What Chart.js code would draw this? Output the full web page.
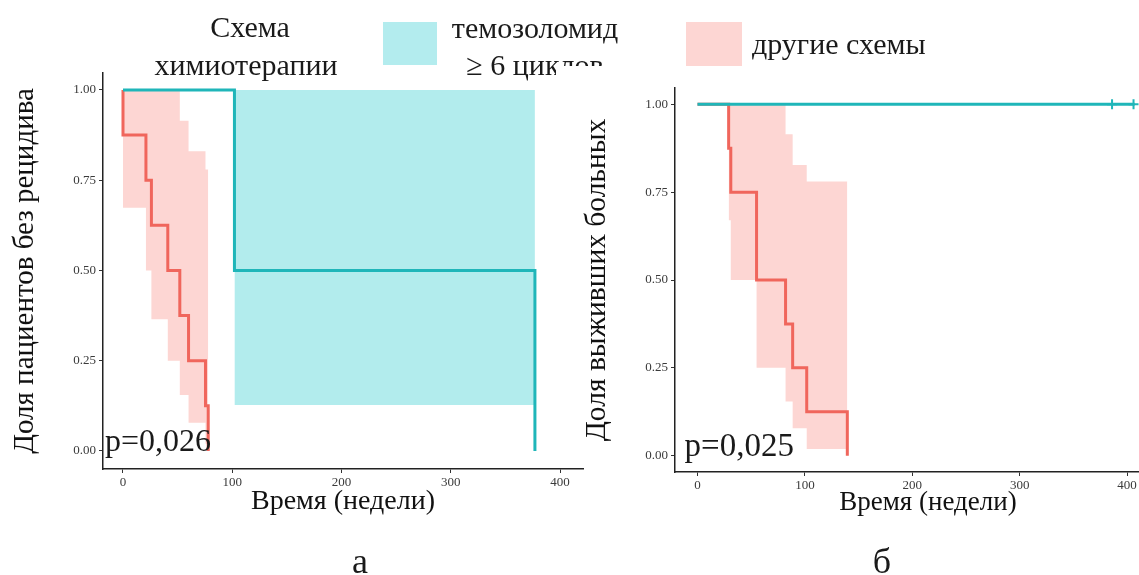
<!DOCTYPE html>
<html>
<head>
<meta charset="utf-8">
<script src="https://cdn.jsdelivr.net/npm/chart.js"></script>
<style>
  body { margin: 0; width: 1139px; height: 575px; overflow: hidden; background: #fff; position: relative; }
  canvas { position: absolute; top: 0; }
  .txt { position: absolute; font-family: "Liberation Serif", "DejaVu Serif", serif; color: #1a1a1a; white-space: nowrap; }
  .key { position: absolute; }
</style>
</head>
<body>
<canvas id="chartA" width="600" height="575" style="left:0"></canvas>
<canvas id="chartB" width="640" height="575" style="left:560px"></canvas>

<!-- легенда -->
<div class="txt" style="left:150px;width:200px;text-align:center;top:12px;font-size:30px;line-height:30px">Схема</div>
<div class="txt" style="left:146px;width:200px;text-align:center;top:50px;font-size:30px;line-height:30px">химиотерапии</div>
<div class="key" style="left:383px;top:22px;width:54px;height:43px;background:#b3ecee"></div>
<div class="txt" style="left:435px;width:200px;text-align:center;top:13px;font-size:30px;line-height:30px">темозоломид</div>
<div class="txt" style="left:435px;width:200px;text-align:center;top:50px;font-size:30px;line-height:30px">≥ 6 циклов</div>
<div style="position:absolute;left:556px;top:66px;width:60px;height:20px;background:#fff"></div>
<div class="key" style="left:686px;top:22px;width:56px;height:44px;background:#fdd6d3"></div>
<div class="txt" style="left:752px;top:29px;font-size:30px;line-height:30px">другие схемы</div>

<div class="txt" style="left:330px;width:60px;text-align:center;top:543px;font-size:36px;line-height:36px">а</div>
<div class="txt" style="left:852px;width:60px;text-align:center;top:543px;font-size:36px;line-height:36px">б</div>

<script>
// а: доля пациентов без рецидива
const aOtherTimes = [0, 0, 21, 26, 41, 52, 60, 75.5, 78];
const aOtherSurv = [1, 0.875, 0.75, 0.625, 0.5, 0.375, 0.25, 0.125, 0];
const aOtherCiTimes = [0, 21, 26, 41, 52, 60, 75.5, 78];
const aOtherCiUpper = [1, 1, 1, 1, 0.915, 0.83, 0.78, 0.78];
const aOtherCiLower = [0.674, 0.5, 0.365, 0.25, 0.155, 0.078, 0.02, 0.02];
const aTmzTimes = [0, 102, 377];
const aTmzSurv = [1, 0.5, 0];
const aTmzCiTimes = [102, 377];
const aTmzCiUpper = [1, 1];
const aTmzCiLower = [0.127, 0.127];

// б: доля выживших больных
const bOtherTimes = [0, 29, 31, 55, 82, 88.6, 101.7, 139.5];
const bOtherSurv = [1, 0.875, 0.75, 0.5, 0.375, 0.25, 0.125, 0];
const bOtherCiTimes = [29, 31, 55, 82, 88.6, 101.7, 139.5];
const bOtherCiUpper = [1, 1, 1, 0.915, 0.827, 0.78, 0.78];
const bOtherCiLower = [0.67, 0.5, 0.25, 0.154, 0.078, 0.019, 0.019];
const bTmzTimes = [0, 407];
const bTmzSurv = [1, 1];
const bTmzCensorTimes = [386, 406];
const bTmzCensorSurv = [1, 1];

const xTicks = [0, 100, 200, 300, 400];
const yTicks = [0, 0.25, 0.5, 0.75, 1];

const TEAL = '#1fb6b9';
const RED = '#f0665c';
const TEAL_BAND = 'rgba(0, 191, 196, 0.3)';
const RED_BAND = 'rgba(248, 118, 109, 0.3)';
const SERIF = '"Liberation Serif", "DejaVu Serif", serif';

function pts(xs, ys) {
  return xs.map((x, i) => ({ x: x, y: ys[i] }));
}

// подпись p-value в координатах данных
const pvalPlugin = {
  id: 'pval',
  afterDatasetsDraw(chart, args, opts) {
    const ctx = chart.ctx;
    ctx.save();
    ctx.font = opts.size + 'px ' + SERIF;
    ctx.fillStyle = '#1a1a1a';
    ctx.textBaseline = 'alphabetic';
    ctx.fillText(opts.text, chart.scales.x.getPixelForValue(opts.x), chart.scales.y.getPixelForValue(opts.y));
    ctx.restore();
  }
};

function band(times, upper, lower, color) {
  return [
    { data: pts(times, upper), stepped: 'before', borderWidth: 0, pointRadius: 0, fill: '+1', backgroundColor: color, order: 3 },
    { data: pts(times, lower), stepped: 'before', borderWidth: 0, pointRadius: 0, fill: false, order: 3 }
  ];
}

function curve(times, surv, color, order) {
  return { data: pts(times, surv), stepped: 'before', borderColor: color, borderWidth: 3, pointRadius: 0, fill: false, order: order };
}

function makeChart(id, o) {
  new Chart(document.getElementById(id), {
    type: 'line',
    data: { datasets: o.datasets },
    plugins: [pvalPlugin],
    options: {
      responsive: false,
      animation: false,
      devicePixelRatio: 1,
      layout: { padding: { top: o.top, right: o.right, left: 0, bottom: 0 } },
      plugins: {
        legend: { display: false },
        tooltip: { enabled: false },
        pval: o.pval
      },
      scales: {
        x: {
          type: 'linear',
          min: o.xMin, max: o.xMax,
          afterBuildTicks: s => { s.ticks = xTicks.map(v => ({ value: v })); },
          afterFit: s => { s.height = o.xHeight; },
          ticks: { color: '#3a3a3a', font: { family: SERIF, size: 13 }, padding: 2, maxRotation: 0 },
          grid: { drawOnChartArea: false, drawTicks: true, tickLength: 4, color: '#333' },
          border: { display: true, color: '#222', width: 1.5 },
          title: { display: true, text: 'Время (недели)', color: '#111', font: { family: SERIF, size: o.xTitleSize, lineHeight: 1.2 }, padding: { top: 0, bottom: o.xTitlePad } }
        },
        y: {
          min: o.yMin, max: o.yMax,
          afterBuildTicks: s => { s.ticks = yTicks.map(v => ({ value: v })); },
          afterFit: s => { s.width = o.yWidth; },
          ticks: { color: '#3a3a3a', font: { family: SERIF, size: 13 }, padding: 3, callback: v => v.toFixed(2) },
          grid: { drawOnChartArea: false, drawTicks: true, tickLength: 4, color: '#333' },
          border: { display: true, color: '#222', width: 1.5 },
          title: { display: true, text: o.yTitle, color: '#111', font: { family: SERIF, size: o.yTitleSize, lineHeight: 1.2 }, padding: { top: o.yTitlePad, bottom: 0 } }
        }
      }
    }
  });
}

makeChart('chartA', {
  datasets: [
    ...band(aOtherCiTimes, aOtherCiUpper, aOtherCiLower, RED_BAND),
    ...band(aTmzCiTimes, aTmzCiUpper, aTmzCiLower, TEAL_BAND),
    curve(aOtherTimes, aOtherSurv, RED, 2),
    curve(aTmzTimes, aTmzSurv, TEAL, 1)
  ],
  top: 73, right: 17,
  xMin: -18.3, xMax: 421, yMin: -0.05, yMax: 1.047,
  xHeight: 106, yWidth: 103,
  xTitleSize: 28, xTitlePad: 57,
  yTitle: 'Доля пациентов без рецидива', yTitleSize: 29, yTitlePad: 7.6,
  pval: { text: 'p=0,026', x: -16.5, y: 0, size: 32 }
});

makeChart('chartB', {
  datasets: [
    ...band(bOtherCiTimes, bOtherCiUpper, bOtherCiLower, RED_BAND),
    curve(bOtherTimes, bOtherSurv, RED, 2),
    curve(bTmzTimes, bTmzSurv, TEAL, 1),
    { type: 'scatter', data: pts(bTmzCensorTimes, bTmzCensorSurv), pointStyle: 'cross', pointRadius: 5, borderColor: TEAL, borderWidth: 2, showLine: false, order: 0 }
  ],
  top: 88, right: 19,
  xMin: -20.95, xMax: 450.2, yMin: -0.0464, yMax: 1.0464,
  xHeight: 103, yWidth: 115,
  xTitleSize: 27, xTitlePad: 56,
  yTitle: 'Доля выживших больных', yTitleSize: 29.5, yTitlePad: 19.3,
  pval: { text: 'p=0,025', x: -12, y: 0, size: 33 }
});
</script>
</body>
</html>
